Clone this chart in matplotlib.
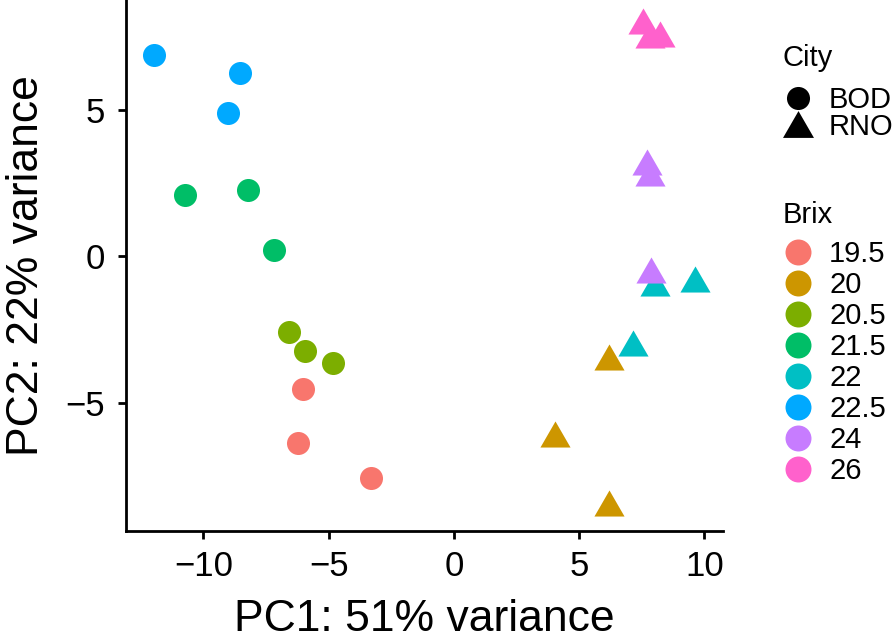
import matplotlib.pyplot as plt
from matplotlib.lines import Line2D

plt.rcParams['font.family'] = ['Liberation Sans', 'DejaVu Sans']

# PCA scores
pc1 = [-6.01, -6.21, -3.31,
       6.18, 4.05, 6.20,
       -6.57, -5.94, -4.83,
       -10.72, -8.23, -7.18,
       8.01, 9.62, 7.15,
       -11.98, -8.52, -9.01,
       7.70, 7.83, 7.87,
       7.55, 7.83, 8.23]
pc2 = [-4.53, -6.38, -7.55,
       -3.43, -6.06, -8.41,
       -2.58, -3.22, -3.65,
       2.10, 2.27, 0.23,
       -0.91, -0.78, -2.95,
       6.87, 6.27, 4.91,
       3.21, 2.83, -0.48,
       8.04, 7.56, 7.59]
city = (['BOD'] * 3 + ['RNO'] * 3 + ['BOD'] * 3 + ['BOD'] * 3 +
        ['RNO'] * 3 + ['BOD'] * 3 + ['RNO'] * 3 + ['RNO'] * 3)
brix = (['19.5'] * 3 + ['20'] * 3 + ['20.5'] * 3 + ['21.5'] * 3 +
        ['22'] * 3 + ['22.5'] * 3 + ['24'] * 3 + ['26'] * 3)

brix_levels = ['19.5', '20', '20.5', '21.5', '22', '22.5', '24', '26']
brix_colors = ['#F8766D', '#CD9600', '#7CAE00', '#00BE67',
               '#00BFC4', '#00A9FF', '#C77CFF', '#FF61CC']
city_levels = ['BOD', 'RNO']

# equilateral triangle centred on its bounding box
tri = [(-1, -0.866), (1, -0.866), (0, 0.866), (-1, -0.866)]
shapes = {'BOD': 'o', 'RNO': tri}
sizes = {'BOD': 275, 'RNO': 470}

W, H = 894, 641
fig = plt.figure(figsize=(W / 100, H / 100), dpi=100)
ax = fig.add_axes([126 / W, 1 - 531 / H, 597 / W, 531 / H])

col = dict(zip(brix_levels, brix_colors))
for x, y, c, b in zip(pc1, pc2, city, brix):
    ax.scatter(x, y, s=sizes[c], marker=shapes[c], color=col[b],
               linewidths=0, zorder=3)

ax.set_xlim(-13.09, 10.74)
ax.set_ylim(-9.37, 8.75)
ax.set_xticks([-10, -5, 0, 5, 10])
ax.set_yticks([-5, 0, 5])
ax.set_xticklabels(['\u221210', '\u22125', '0', '5', '10'])
ax.set_yticklabels(['\u22125', '0', '5'])
for s in ['top', 'right']:
    ax.spines[s].set_visible(False)
for s in ['left', 'bottom']:
    ax.spines[s].set_linewidth(2)
ax.tick_params(labelsize=25, width=2, length=6, colors='black')
ax.tick_params(axis='x', pad=8)
ax.tick_params(axis='y', pad=9)
ax.set_xlabel('PC1: 51% variance', fontsize=32, labelpad=11)
ax.set_ylabel('PC2: 22% variance', fontsize=32, labelpad=13)

# legends: titles as separate text so the gap below them can be set
fig.text(783 / W, 1 - 66 / H, 'City', fontsize=21, va='baseline', ha='left')
fig.text(783 / W, 1 - 223 / H, 'Brix', fontsize=21, va='baseline', ha='left')

city_handles = [Line2D([], [], ls='', marker=shapes[c], color='black',
                       markersize=16.6 if c == 'BOD' else 22.3, mew=0)
                for c in city_levels]
leg1 = fig.legend(city_handles, city_levels, loc='upper left',
                  bbox_to_anchor=(783 / W, 1 - 86 / H), frameon=False,
                  fontsize=21, handletextpad=0.55, labelspacing=-0.05,
                  handlelength=1.03, borderaxespad=0, borderpad=0)

brix_handles = [Line2D([], [], ls='', marker='o', color=c, markersize=18.7,
                       mew=0) for c in brix_colors]
leg2 = fig.legend(brix_handles, brix_levels, loc='upper left',
                  bbox_to_anchor=(783 / W, 1 - 240 / H), frameon=False,
                  fontsize=21, handletextpad=0.55, labelspacing=0.105,
                  handlelength=1.03, borderaxespad=0, borderpad=0)

fig.savefig('out.png', dpi=100)
